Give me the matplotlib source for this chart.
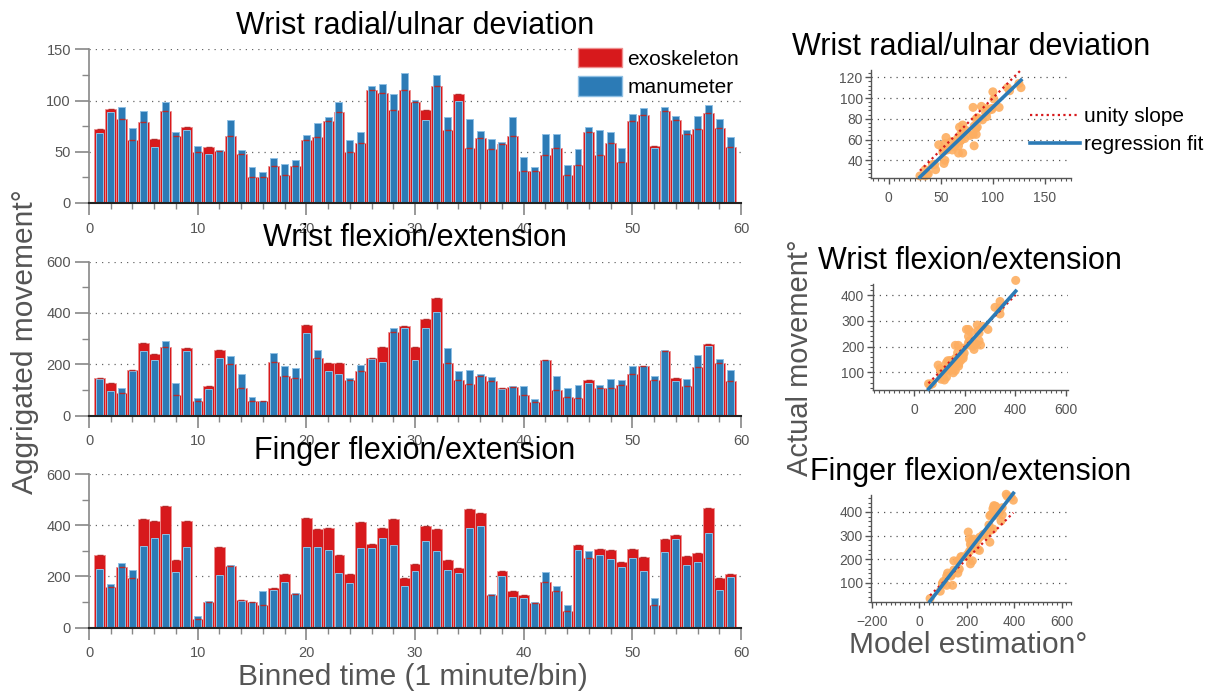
import matplotlib
matplotlib.use('Agg')
import matplotlib.pyplot as plt
import numpy as np
from matplotlib.ticker import MultipleLocator
from matplotlib.lines import Line2D
from matplotlib.patches import Patch

plt.rcParams['font.family'] = ['Liberation Sans', 'DejaVu Sans']

bins = list(range(1, 60))

radial_exo = [72, 92, 82, 61, 79, 62, 90, 65, 74, 50, 55, 51, 65, 48, 25, 25, 36, 27, 36, 61,
              64, 80, 89, 50, 59, 110, 107, 91, 110, 99, 91, 114, 71, 106, 54, 63, 53, 58, 65, 31,
              31, 47, 54, 27, 37, 69, 47, 59, 40, 80, 86, 56, 90, 81, 67, 72, 88, 73, 55]
radial_man = [68, 89, 94, 73, 90, 55, 99, 69, 71, 56, 48, 52, 81, 52, 35, 30, 44, 38, 42, 66,
              78, 84, 99, 61, 69, 114, 116, 106, 127, 101, 81, 125, 84, 100, 82, 70, 62, 60, 84, 45,
              35, 67, 67, 37, 53, 74, 71, 69, 54, 87, 93, 54, 94, 85, 71, 85, 96, 82, 64]

flex_exo = [146, 128, 86, 176, 284, 240, 267, 81, 262, 55, 115, 257, 201, 107, 55, 55, 210, 154, 145, 353,
            223, 205, 205, 137, 175, 223, 267, 327, 350, 267, 376, 458, 206, 137, 124, 154, 133, 107, 111, 81,
            51, 215, 98, 73, 70, 137, 107, 107, 120, 163, 194, 137, 253, 145, 116, 189, 279, 206, 133]
flex_man = [143, 95, 107, 172, 250, 215, 292, 128, 253, 68, 103, 224, 233, 163, 72, 57, 245, 194, 184, 320,
            257, 175, 163, 145, 198, 220, 207, 340, 340, 215, 340, 402, 263, 172, 176, 163, 150, 104, 116, 115,
            63, 215, 155, 107, 120, 128, 120, 142, 137, 194, 194, 154, 257, 133, 142, 237, 271, 219, 176]

finger_exo = [285, 158, 237, 193, 424, 418, 475, 263, 418, 33, 98, 315, 242, 106, 98, 89, 154, 210, 133, 427,
              384, 388, 285, 210, 414, 328, 388, 424, 193, 250, 397, 384, 263, 233, 463, 450, 128, 220, 141, 128,
              94, 180, 141, 64, 323, 272, 306, 302, 255, 306, 276, 89, 345, 362, 281, 293, 467, 193, 210]
finger_man = [229, 169, 254, 224, 319, 350, 367, 216, 315, 46, 102, 207, 246, 103, 98, 141, 146, 180, 137, 315,
              315, 302, 212, 176, 311, 311, 350, 323, 163, 220, 337, 298, 224, 212, 388, 397, 133, 203, 120, 116,
              98, 216, 163, 89, 302, 298, 285, 268, 238, 272, 220, 116, 294, 345, 246, 255, 371, 146, 199]

titles = ["Wrist radial/ulnar deviation", "Wrist flexion/extension", "Finger flexion/extension"]
series_names = ["exoskeleton", "manumeter"]
line_names = ["unity slope", "regression fit"]
bar_ylims = [150, 600, 600]
bar_ymajor = [50, 200, 200]

RED = '#d7191c'
BLUE = '#2c7bb6'
ORANGE = '#fdae61'
GRAY = '#555555'

W, H = 1215, 694
fig = plt.figure(figsize=(W / 100, H / 100), dpi=100)

def fr(x0, y_top, x1, y_bot):
    return [x0 / W, 1 - y_bot / H, (x1 - x0) / W, (y_bot - y_top) / H]

bar_rects = [fr(89, 49.3, 741, 203), fr(89, 261.7, 741, 415.5), fr(89, 474.3, 741, 627.5)]
exo_all = [radial_exo, flex_exo, finger_exo]
man_all = [radial_man, flex_man, finger_man]

for i in range(3):
    ax = fig.add_axes(bar_rects[i])
    ax.set_axisbelow(True)
    ax.bar(bins, exo_all[i], width=1.0, color=RED, edgecolor='#ee8f8f', linewidth=0.6, zorder=2)
    ax.bar(bins, man_all[i], width=0.64, color=BLUE, edgecolor='#8fc0e4', linewidth=0.7, zorder=3)
    ax.scatter(bins, exo_all[i], marker='_', s=22, color='#b52b2b', linewidths=1.0, zorder=3.5)
    ax.set_xlim(0, 60)
    ax.set_ylim(0, bar_ylims[i])
    ax.xaxis.set_major_locator(MultipleLocator(10))
    ax.xaxis.set_minor_locator(MultipleLocator(2))
    ax.yaxis.set_major_locator(MultipleLocator(bar_ymajor[i]))
    ax.yaxis.set_minor_locator(MultipleLocator(bar_ymajor[i] / 2))
    for s in ['top', 'right']:
        ax.spines[s].set_visible(False)
    ax.spines['left'].set_color('#888888')
    ax.spines['left'].set_linewidth(1.2)
    ax.spines['bottom'].set_color('#222222')
    ax.spines['bottom'].set_linewidth(1.5)
    ax.spines['bottom'].set_zorder(4)
    ax.tick_params(axis='y', which='major', direction='out', length=10, width=1.2,
                   color='#888888', labelcolor=GRAY, labelsize=10.5, pad=3)
    ax.tick_params(axis='y', which='minor', direction='out', length=5, width=1.0, color='#888888')
    ax.tick_params(axis='x', which='major', direction='out', length=8.5, width=1.2,
                   color='#888888', labelcolor=GRAY, labelsize=10.5, pad=5)
    ax.tick_params(axis='x', which='minor', direction='out', length=4.5, width=1.0, color='#888888')
    ax.yaxis.grid(True, which='major', linestyle=(0, (1, 4)), color='#666666', linewidth=0.9)
    ax.set_title(titles[i], fontsize=22, pad=11)
    if i == 0:
        leg = ax.legend(handles=[Patch(facecolor=RED, edgecolor='#ee8f8f'),
                                 Patch(facecolor=BLUE, edgecolor='#8fc0e4')],
                        labels=series_names, loc='upper left',
                        bbox_to_anchor=((575 - 89) / 652, (203 - 45) / 153.7),
                        fontsize=15, handlelength=2.1, handleheight=1.05, handletextpad=0.25,
                        labelspacing=0.35, borderpad=0.15, borderaxespad=0,
                        framealpha=1, edgecolor='none', facecolor='white', fancybox=False)
        leg.set_zorder(5)

fig.text(25 / W, 1 - 342 / H, 'Aggrigated movement°', rotation=90, ha='center', va='center',
         fontsize=21.5, color=GRAY)
fig.text(413 / W, 1 - 677 / H, 'Binned time (1 minute/bin)', ha='center', va='center',
         fontsize=21.5, color=GRAY)

sc_rects = [fr(871, 70, 1071, 178), fr(872.7, 284, 1068, 390), fr(871, 495, 1071, 602.3)]
sc_xlim = [(-17, 175), (-164, 609), (-203, 640)]
sc_ylim = [(23, 127), (31, 444), (17, 472)]
sc_xmajor = [50, 200, 200]
sc_ymajor = [20, 100, 100]
sc_xticks = [[0, 50, 100, 150], [0, 200, 400, 600], [-200, 0, 200, 400, 600]]
sc_yticks = [[40, 60, 80, 100, 120], [100, 200, 300, 400], [100, 200, 300, 400]]

for i in range(3):
    ax = fig.add_axes(sc_rects[i])
    ax.set_axisbelow(True)
    x = np.array(man_all[i], dtype=float)
    y = np.array(exo_all[i], dtype=float)
    ax.scatter(x, y, s=42, color=ORANGE, alpha=0.9, edgecolors='none', zorder=2, clip_on=False)
    xs = np.array([x.min(), x.max()])
    ax.plot(xs, xs, color=RED, linestyle=(0, (1, 1.5)), linewidth=1.6, zorder=3, clip_on=False)
    k, b = np.polyfit(x, y, 1)
    ax.plot(xs, k * xs + b, color=BLUE, linewidth=2.6, zorder=4, clip_on=False)
    ax.set_xlim(*sc_xlim[i])
    ax.set_ylim(*sc_ylim[i])
    ax.set_xticks(sc_xticks[i])
    ax.set_yticks(sc_yticks[i])
    ax.xaxis.set_minor_locator(MultipleLocator(sc_xmajor[i] / 10))
    ax.yaxis.set_minor_locator(MultipleLocator(sc_ymajor[i] / 5))
    for s in ['top', 'right']:
        ax.spines[s].set_visible(False)
    for s in ['left', 'bottom']:
        ax.spines[s].set_color('#555555')
        ax.spines[s].set_linewidth(1.0)
    ax.tick_params(axis='both', which='major', direction='out', length=4, width=1.0,
                   color='#555555', labelcolor=GRAY, labelsize=10, pad=2)
    ax.tick_params(axis='x', which='major', pad=5)
    ax.tick_params(axis='both', which='minor', direction='out', length=2, width=0.8, color='#555555')
    ax.yaxis.grid(True, which='major', linestyle=(0, (1, 4)), color='#555555', linewidth=0.9)
    ax.set_title(titles[i], fontsize=22, pad=11)

fig.legend(handles=[Line2D([], [], color=RED, linestyle=(0, (1, 1.5)), linewidth=1.6),
                    Line2D([], [], color=BLUE, linewidth=2.6)],
           labels=line_names, loc='upper left', bbox_to_anchor=(1030 / W, 1 - 107 / H),
           frameon=False, fontsize=15, handlelength=2.4, handletextpad=0.2, labelspacing=0.45,
           borderpad=0, borderaxespad=0)

fig.text(800 / W, 1 - 358 / H, 'Actual movement°', rotation=90, ha='center', va='center',
         fontsize=21, color=GRAY)
fig.text(968 / W, 1 - 645 / H, 'Model estimation°', ha='center', va='center',
         fontsize=21.5, color=GRAY)

fig.savefig('out.png', dpi=100)
